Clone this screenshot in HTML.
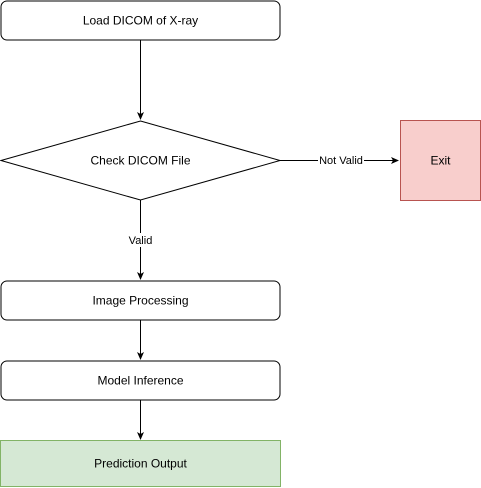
<!DOCTYPE html>
<html><head><style>body{margin:0;background:#fff}svg{display:block}text{font-family:"Liberation Sans",sans-serif;font-size:12px;fill:#000}</style></head>
<body>
<svg width="481" height="488" xmlns="http://www.w3.org/2000/svg">
<defs><marker id="a" markerWidth="8" markerHeight="8" refX="7" refY="4" orient="auto" markerUnits="userSpaceOnUse"><path d="M0,0.5 L8,4 L0,7.5 L2,4 Z" fill="#000"/></marker></defs>
<rect x="1" y="1" width="279" height="39" rx="6" fill="#fff" stroke="#000"/>
<text x="140.5" y="24.5" text-anchor="middle">Load DICOM of X-ray</text>
<line x1="140.5" y1="40" x2="140.5" y2="119" stroke="#000" marker-end="url(#a)"/>
<polygon points="140.5,121 280,160.5 140.5,200 1,160.5" fill="#fff" stroke="#000"/>
<text x="140.5" y="164.5" text-anchor="middle">Check DICOM File</text>
<line x1="280" y1="160.5" x2="398" y2="160.5" stroke="#000" marker-end="url(#a)"/>
<rect x="318" y="153" width="46" height="14" fill="#fff"/>
<text x="341" y="164" text-anchor="middle" style="font-size:11px">Not Valid</text>
<rect x="400.5" y="120.5" width="80" height="80" fill="#f8cecc" stroke="#b85450"/>
<text x="440.5" y="164.5" text-anchor="middle">Exit</text>
<line x1="140.5" y1="200" x2="140.5" y2="279" stroke="#000" marker-end="url(#a)"/>
<rect x="125" y="233" width="31" height="14" fill="#fff"/>
<text x="140.5" y="244" text-anchor="middle" style="font-size:11px">Valid</text>
<rect x="1" y="281" width="279" height="39" rx="6" fill="#fff" stroke="#000"/>
<text x="140.5" y="304.5" text-anchor="middle">Image Processing</text>
<line x1="140.5" y1="320" x2="140.5" y2="359" stroke="#000" marker-end="url(#a)"/>
<rect x="1" y="361" width="279" height="39" rx="6" fill="#fff" stroke="#000"/>
<text x="140.5" y="384.5" text-anchor="middle">Model Inference</text>
<line x1="140.5" y1="400" x2="140.5" y2="439" stroke="#000" marker-end="url(#a)"/>
<rect x="0.5" y="440.5" width="280" height="46" fill="#d5e8d4" stroke="#82b366"/>
<text x="140.5" y="467.5" text-anchor="middle">Prediction Output</text>
</svg>
</body></html>
